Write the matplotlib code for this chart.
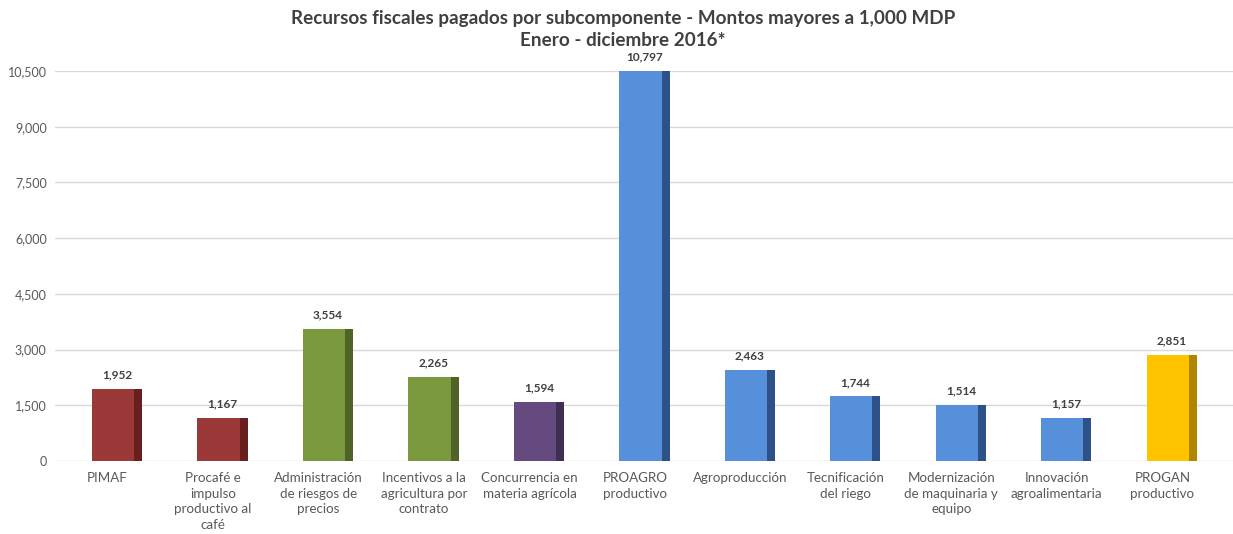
import numpy as np
import matplotlib
matplotlib.use('Agg')
import matplotlib.pyplot as plt

plt.rcParams['font.family'] = ['Lato', 'DejaVu Sans']

# data
categories = ["PIMAF", "Procafé e\nimpulso\nproductivo al\ncafé",
              "Administración\nde riesgos de\nprecios",
              "Incentivos a la\nagricultura por\ncontrato",
              "Concurrencia en\nmateria agrícola", "PROAGRO\nproductivo",
              "Agroproducción", "Tecnificación\ndel riego",
              "Modernización\nde maquinaria y\nequipo",
              "Innovación\nagroalimentaria", "PROGAN\nproductivo"]
values = [1952, 1167, 3554, 2265, 1594, 10797, 2463, 1744, 1514, 1157, 2851]
groups = ["red", "red", "green", "green", "purple", "blue", "blue", "blue",
          "blue", "blue", "yellow"]

# front / side colours per group
front = {"red": "#9B3838", "green": "#7A983E", "purple": "#644A7E",
         "blue": "#5690DA", "yellow": "#FFC300"}
side = {"red": "#6A1F1F", "green": "#4F6327", "purple": "#3F2F52",
        "blue": "#2E5287", "yellow": "#B08600"}

YMAX = 10500

fig = plt.figure(figsize=(12.33, 5.34), dpi=100)
ax = fig.add_axes([0.0446, 0.1367, 0.9554, 0.7303])

x = np.arange(len(values))
wf = 0.40   # front face width
ws = 0.076  # dark side width
for i, v in enumerate(values):
    g = groups[i]
    left = x[i] - (wf + ws) / 2
    ax.bar(left, v, wf, align="edge", color=front[g], zorder=3)
    ax.bar(left + wf, v, ws, align="edge", color=side[g], zorder=3)
    top = min(v, YMAX)
    ax.annotate(f"{v:,}", (x[i], top), xytext=(0, 6), textcoords="offset points",
                ha="center", va="bottom", fontsize=8.5, fontweight="bold",
                color="#404040", annotation_clip=False)

ax.set_xlim(-0.588, 10.58)
ax.set_ylim(0, YMAX)
ax.set_yticks(np.arange(0, YMAX + 1, 1500))
ax.set_yticklabels([f"{t:,}" for t in range(0, YMAX + 1, 1500)])
ax.set_xticks(x - 0.09)
ax.set_xticklabels(categories, linespacing=1.35)

ax.grid(axis="y", color="#D9D9D9", linewidth=1)
ax.set_axisbelow(True)
for s in ax.spines.values():
    s.set_visible(False)
ax.tick_params(axis="both", length=0, labelsize=9.5, colors="#595959")
ax.tick_params(axis="x", pad=8, labelsize=9.6)
ax.tick_params(axis="y", pad=6, labelsize=9)

fig.text(0.505, 0.965, "Recursos fiscales pagados por subcomponente - Montos mayores a 1,000 MDP",
         ha="center", va="center", fontsize=13.6, fontweight="bold", color="#404040")
fig.text(0.505, 0.924, "Enero - diciembre 2016*",
         ha="center", va="center", fontsize=13.6, fontweight="bold", color="#404040")

fig.savefig("out.png", dpi=100)
